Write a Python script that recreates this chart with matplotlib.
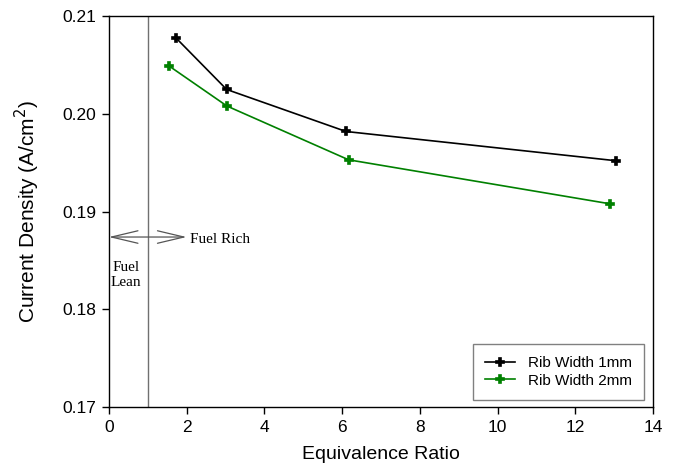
import matplotlib
matplotlib.use("Agg")
import matplotlib.pyplot as plt

# equivalence ratio vs current density for two rib widths
ratio_1mm = [1.72, 3.03, 6.10, 13.06]
density_1mm = [0.2078, 0.2025, 0.1982, 0.1952]
ratio_2mm = [1.55, 3.04, 6.17, 12.89]
density_2mm = [0.2049, 0.2008, 0.1953, 0.1908]

stoich = 1.0
arrow_y = 0.1874

plt.rcParams['font.family'] = ['Liberation Sans', 'DejaVu Sans']

fig = plt.figure(figsize=(6.76, 4.75), dpi=100)
ax = fig.add_axes([0.161, 0.143, 0.805, 0.823])

ax.plot(ratio_1mm, density_1mm, '-P', color='black', lw=1.2, ms=6, mew=1.2,
        label='Rib Width 1mm')
ax.plot(ratio_2mm, density_2mm, '-P', color='#008000', lw=1.2, ms=6, mew=1.2,
        label='Rib Width 2mm')

# stoichiometric line and lean/rich arrow
ax.axvline(stoich, color='#707070', lw=1)
ax.annotate('', xy=(0, arrow_y), xytext=(2.0, arrow_y),
            arrowprops=dict(arrowstyle='<->,head_length=1.9,head_width=0.45',
                            mutation_scale=10, color='#555555', lw=0.9,
                            shrinkA=0, shrinkB=0))
ax.text(2.1, 0.1871, 'Fuel Rich', family='Liberation Serif', fontsize=11,
        va='center', ha='left')
ax.text(0.44, 0.1849, 'Fuel\nLean', family='Liberation Serif', fontsize=11,
        va='top', ha='center', linespacing=1.15)

ax.set_xlim(0, 14)
ax.set_ylim(0.17, 0.21)
ax.set_xticks(range(0, 15, 2))
ax.set_yticks([0.17, 0.18, 0.19, 0.20, 0.21])
ax.set_yticklabels(['0.17', '0.18', '0.19', '0.20', '0.21'])
ax.tick_params(direction='out', length=5, width=1, labelsize=12.5, pad=4)
for s in ax.spines.values():
    s.set_linewidth(1)

ax.set_xlabel('Equivalence Ratio', fontsize=14, labelpad=8)
ax.set_ylabel('Current Density (A/cm$^2$)', fontsize=15, labelpad=15)

leg = ax.legend(loc='lower right', bbox_to_anchor=(0.983, 0.018), fontsize=11,
                fancybox=False, framealpha=1, edgecolor='#808080',
                handlelength=2.0, borderpad=0.8, labelspacing=0.25,
                handletextpad=0.8, borderaxespad=0)
leg.get_frame().set_linewidth(1)

fig.savefig('out.png', dpi=100)
